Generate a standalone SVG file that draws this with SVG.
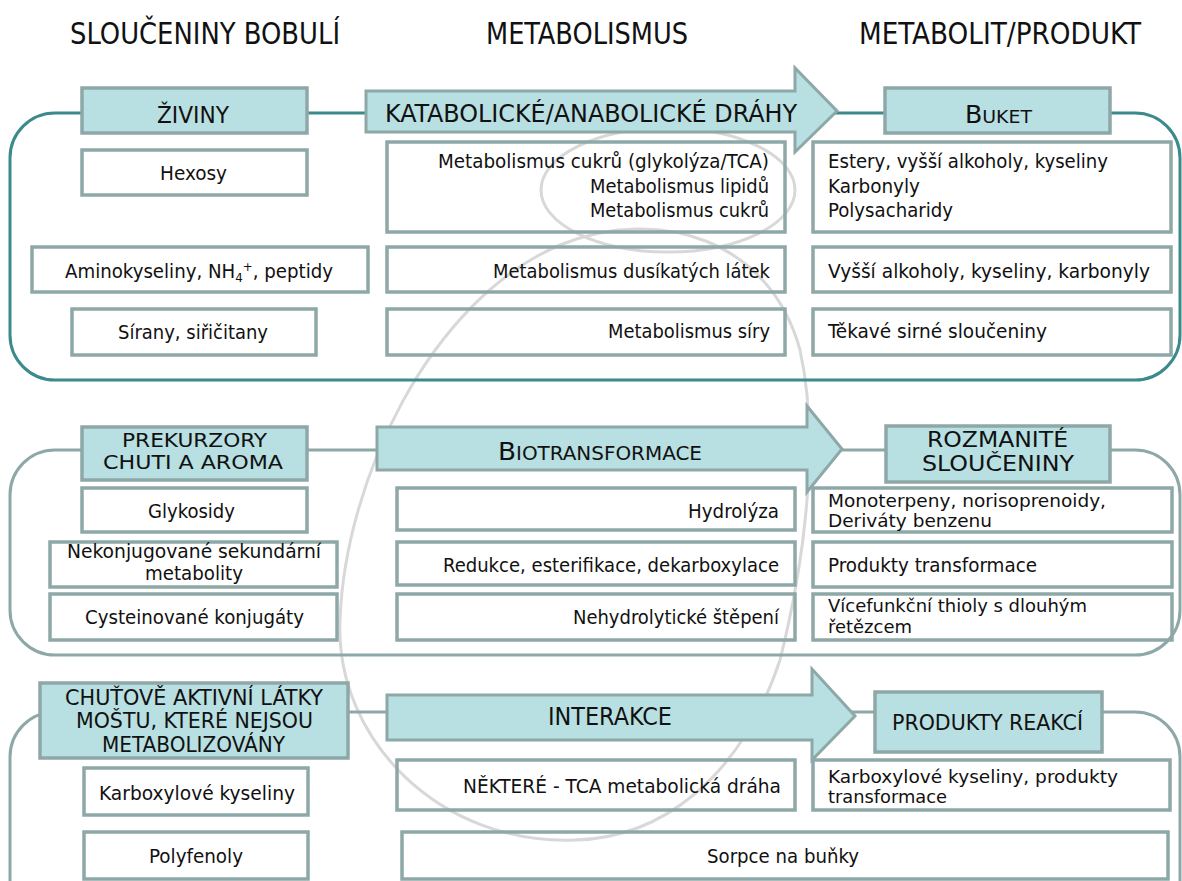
<svg xmlns="http://www.w3.org/2000/svg" width="1182" height="881" viewBox="0 0 1182 881">
<style>
.bg{fill:#ffffff}
.sw{fill:none;stroke:#d8d8d8;stroke-width:3}
.pn1{fill:none;stroke:#3b8a8c;stroke-width:3}
.pn{fill:none;stroke:#8ea8a8;stroke-width:3}
.bx{fill:none;stroke:#8ea8a8;stroke-width:3.5}
.hd{fill:#b8dfe1;stroke:#8ea8a8;stroke-width:3.5}
.ar{fill:#b8dfe1;stroke:#8ea8a8;stroke-width:3}
text{font-family:"DejaVu Sans Condensed","DejaVu Sans","Liberation Sans",sans-serif;font-stretch:condensed;fill:#111111}
.t{font-size:20px}
.t2{font-size:18px}
.h{font-size:31px}
.s20{font-size:20px}
.s21{font-size:21px}
.s23{font-size:23px}
.s24{font-size:24px}
.s25{font-size:25px}
</style>
<rect class="bg" x="0" y="0" width="1182" height="881"/>
<g id="background">
<path class="sw" d="M575 840 C440 845 335 740 340 620 C345 480 430 300 560 245 C660 205 770 240 800 350 C820 440 805 560 780 660 C740 780 660 838 575 840 Z"/>
<ellipse class="sw" cx="668" cy="190" rx="127" ry="62"/>
</g>
<g id="headings">
<text class="h" x="70" y="44" textLength="270" lengthAdjust="spacingAndGlyphs">SLOUČENINY BOBULÍ</text>
<text class="h" x="486" y="44" textLength="202" lengthAdjust="spacingAndGlyphs">METABOLISMUS</text>
<text class="h" x="859" y="44" textLength="282" lengthAdjust="spacingAndGlyphs">METABOLIT/PRODUKT</text>
</g>
<g id="panels">
<rect class="pn1" x="10" y="113" width="1170" height="267" rx="45"/>
<rect class="pn" x="10" y="450" width="1170" height="205" rx="45"/>
<rect class="pn" x="10" y="712" width="1170" height="230" rx="45"/>
</g>
<g id="connectors">
<g id="arrow-katabolicke">
<polygon class="ar" points="366,91 795,91 795,68 837,111 795,152 795,132 366,132"/>
<text class="s25" x="385" y="122" textLength="412" lengthAdjust="spacingAndGlyphs">KATABOLICKÉ/ANABOLICKÉ DRÁHY</text>
</g>
<g id="arrow-biotransformace">
<polygon class="ar" points="377,427 807,427 807,406 842,449 807,492 807,470 377,470"/>
<text x="498" y="460" textLength="204" lengthAdjust="spacingAndGlyphs"><tspan font-size="25">B</tspan><tspan font-size="19">IOTRANSFORMACE</tspan></text>
</g>
<g id="arrow-interakce">
<polygon class="ar" points="387,695 812,695 812,669 855,716 812,760 812,740 387,740"/>
<text class="s24" x="548" y="725" textLength="124" lengthAdjust="spacingAndGlyphs">INTERAKCE</text>
</g>
</g>
<g id="zivina">
<rect class="hd" x="82" y="88" width="225" height="45"/>
<text class="s23" x="157" y="123" textLength="72" lengthAdjust="spacingAndGlyphs">ŽIVINY</text>
</g>
<g id="hexosy">
<rect class="bx" x="82" y="150" width="225" height="45"/>
<text class="t" x="160" y="180" textLength="67" lengthAdjust="spacingAndGlyphs">Hexosy</text>
</g>
<g id="aminokyseliny">
<rect class="bx" x="32" y="247" width="336" height="45"/>
<text class="t" x="65" y="278" textLength="268" lengthAdjust="spacingAndGlyphs">Aminokyseliny, NH<tspan font-size="13" dy="4">4</tspan><tspan font-size="13" dy="-11">+</tspan><tspan dy="7">, peptidy</tspan></text>
</g>
<g id="sirany">
<rect class="bx" x="72" y="309" width="244" height="46"/>
<text class="t" x="118" y="339" textLength="150" lengthAdjust="spacingAndGlyphs">Sírany, siřičitany</text>
</g>
<g id="met-cukru">
<rect class="bx" x="387" y="142" width="398" height="90"/>
<text class="t" x="438" y="168" textLength="331" lengthAdjust="spacingAndGlyphs">Metabolismus cukrů (glykolýza/TCA)</text>
<text class="t" x="590" y="193" textLength="179" lengthAdjust="spacingAndGlyphs">Metabolismus lipidů</text>
<text class="t" x="590" y="217" textLength="179" lengthAdjust="spacingAndGlyphs">Metabolismus cukrů</text>
</g>
<g id="met-dusik">
<rect class="bx" x="387" y="247" width="398" height="45"/>
<text class="t" x="493" y="278" textLength="277" lengthAdjust="spacingAndGlyphs">Metabolismus dusíkatých látek</text>
</g>
<g id="met-siry">
<rect class="bx" x="387" y="309" width="398" height="46"/>
<text class="t" x="608" y="338" textLength="162" lengthAdjust="spacingAndGlyphs">Metabolismus síry</text>
</g>
<g id="buket">
<rect class="hd" x="885" y="88" width="225" height="45"/>
<text x="965" y="123" textLength="67" lengthAdjust="spacingAndGlyphs"><tspan font-size="24">B</tspan><tspan font-size="18">UKET</tspan></text>
</g>
<g id="estery">
<rect class="bx" x="813" y="142" width="358" height="90"/>
<text class="t" x="828" y="168" textLength="280" lengthAdjust="spacingAndGlyphs">Estery, vyšší alkoholy, kyseliny</text>
<text class="t" x="828" y="193" textLength="92" lengthAdjust="spacingAndGlyphs">Karbonyly</text>
<text class="t" x="828" y="217" textLength="125" lengthAdjust="spacingAndGlyphs">Polysacharidy</text>
</g>
<g id="vyssi-alkoholy">
<rect class="bx" x="813" y="247" width="358" height="45"/>
<text class="t" x="828" y="278" textLength="322" lengthAdjust="spacingAndGlyphs">Vyšší alkoholy, kyseliny, karbonyly</text>
</g>
<g id="tekave">
<rect class="bx" x="813" y="309" width="358" height="46"/>
<text class="t" x="828" y="338" textLength="219" lengthAdjust="spacingAndGlyphs">Těkavé sirné sloučeniny</text>
</g>
<g id="prekurzory">
<rect class="hd" x="82" y="427" width="225" height="53"/>
<text class="s20" x="122" y="447" textLength="145" lengthAdjust="spacingAndGlyphs">PREKURZORY</text>
<text class="s20" x="103" y="469" textLength="180" lengthAdjust="spacingAndGlyphs">CHUTI A AROMA</text>
</g>
<g id="glykosidy">
<rect class="bx" x="82" y="488" width="225" height="44"/>
<text class="t" x="148" y="518" textLength="87" lengthAdjust="spacingAndGlyphs">Glykosidy</text>
</g>
<g id="nekonjugovane">
<rect class="bx" x="50" y="542" width="287" height="45"/>
<text class="t" x="67" y="558" textLength="254" lengthAdjust="spacingAndGlyphs">Nekonjugované sekundární</text>
<text class="t" x="145" y="580" textLength="98" lengthAdjust="spacingAndGlyphs">metabolity</text>
</g>
<g id="cysteinovane">
<rect class="bx" x="50" y="594" width="287" height="46"/>
<text class="t" x="85" y="624" textLength="219" lengthAdjust="spacingAndGlyphs">Cysteinované konjugáty</text>
</g>
<g id="hydrolyza">
<rect class="bx" x="397" y="488" width="398" height="42"/>
<text class="t" x="688" y="518" textLength="91" lengthAdjust="spacingAndGlyphs">Hydrolýza</text>
</g>
<g id="redukce">
<rect class="bx" x="397" y="542" width="398" height="43"/>
<text class="t" x="443" y="572" textLength="336" lengthAdjust="spacingAndGlyphs">Redukce, esterifikace, dekarboxylace</text>
</g>
<g id="nehydrolyticke">
<rect class="bx" x="397" y="594" width="398" height="46"/>
<text class="t" x="573" y="624" textLength="206" lengthAdjust="spacingAndGlyphs">Nehydrolytické štěpení</text>
</g>
<g id="rozmanite">
<rect class="hd" x="886" y="426" width="224" height="56"/>
<text class="s21" x="927" y="447" textLength="141" lengthAdjust="spacingAndGlyphs">ROZMANITÉ</text>
<text class="s21" x="922" y="471" textLength="152" lengthAdjust="spacingAndGlyphs">SLOUČENINY</text>
</g>
<g id="monoterpeny">
<rect class="bx" x="813" y="488" width="359" height="44"/>
<text class="t2" x="828" y="507" textLength="278" lengthAdjust="spacingAndGlyphs">Monoterpeny, norisoprenoidy,</text>
<text class="t2" x="828" y="527" textLength="164" lengthAdjust="spacingAndGlyphs">Deriváty benzenu</text>
</g>
<g id="produkty-transformace">
<rect class="bx" x="813" y="542" width="359" height="45"/>
<text class="t" x="828" y="572" textLength="209" lengthAdjust="spacingAndGlyphs">Produkty transformace</text>
</g>
<g id="thioly">
<rect class="bx" x="813" y="594" width="359" height="46"/>
<text class="t2" x="828" y="612" textLength="259" lengthAdjust="spacingAndGlyphs">Vícefunkční thioly s dlouhým</text>
<text class="t2" x="828" y="633" textLength="84" lengthAdjust="spacingAndGlyphs">řetězcem</text>
</g>
<g id="chutove">
<rect class="hd" x="40" y="683" width="308" height="75"/>
<text class="s21" x="65" y="705" textLength="258" lengthAdjust="spacingAndGlyphs">CHUŤOVĚ AKTIVNÍ LÁTKY</text>
<text class="s21" x="76" y="728" textLength="237" lengthAdjust="spacingAndGlyphs">MOŠTU, KTERÉ NEJSOU</text>
<text class="s21" x="102" y="752" textLength="183" lengthAdjust="spacingAndGlyphs">METABOLIZOVÁNY</text>
</g>
<g id="karboxylove">
<rect class="bx" x="84" y="768" width="224" height="47"/>
<text class="t" x="99" y="800" textLength="196" lengthAdjust="spacingAndGlyphs">Karboxylové kyseliny</text>
</g>
<g id="polyfenoly">
<rect class="bx" x="84" y="832" width="224" height="47"/>
<text class="t" x="149" y="863" textLength="94" lengthAdjust="spacingAndGlyphs">Polyfenoly</text>
</g>
<g id="nektere">
<rect class="bx" x="397" y="760" width="398" height="50"/>
<text class="t" x="463" y="793" textLength="318" lengthAdjust="spacingAndGlyphs">NĚKTERÉ - TCA metabolická dráha</text>
</g>
<g id="sorpce">
<rect class="bx" x="402" y="832" width="766" height="47"/>
<text class="t" x="707" y="863" textLength="152" lengthAdjust="spacingAndGlyphs">Sorpce na buňky</text>
</g>
<g id="produkty-reakci">
<rect class="hd" x="875" y="692" width="227" height="60"/>
<text class="s21" x="892" y="730" textLength="191" lengthAdjust="spacingAndGlyphs">PRODUKTY REAKCÍ</text>
</g>
<g id="karboxylove-produkty">
<rect class="bx" x="813" y="760" width="357" height="50"/>
<text class="t2" x="828" y="783" textLength="290" lengthAdjust="spacingAndGlyphs">Karboxylové kyseliny, produkty</text>
<text class="t2" x="828" y="803" textLength="119" lengthAdjust="spacingAndGlyphs">transformace</text>
</g>
</svg>
